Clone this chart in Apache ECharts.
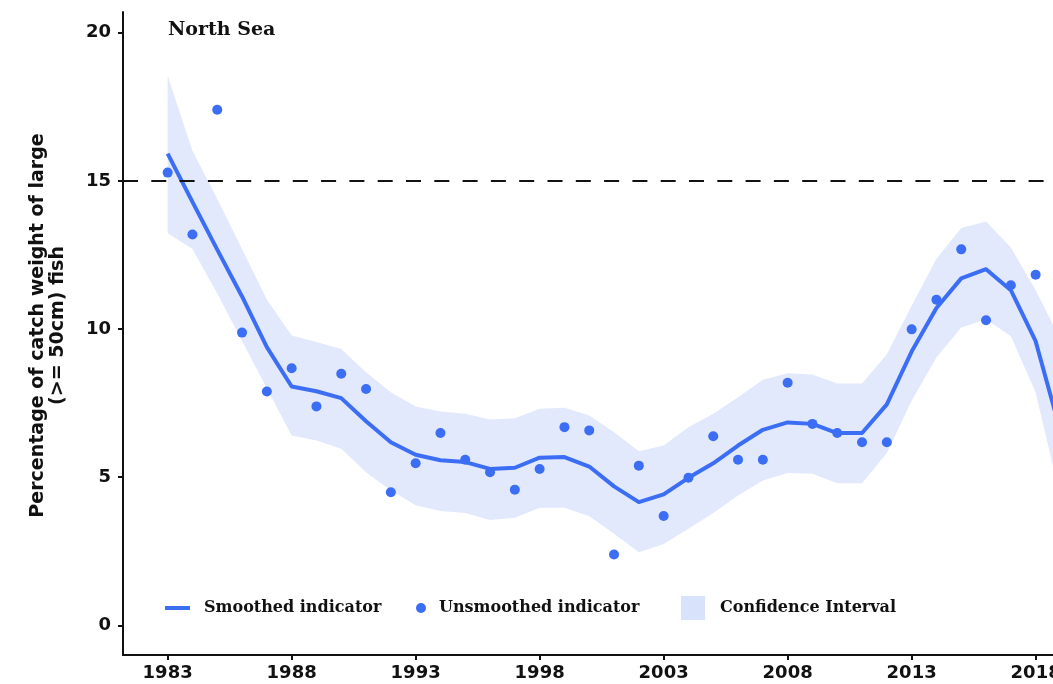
<!DOCTYPE html>
<html>
<head>
<meta charset="utf-8">
<script src="https://cdn.jsdelivr.net/npm/echarts@6/dist/echarts.min.js"></script>
<style>
html,body{margin:0;padding:0;background:#fff;}
#chart{width:1053px;height:684px;}
</style>
</head>
<body>
<div id="chart"></div>
<script>
// ---- data ----
const pointYears = [1983,1984,1985,1986,1987,1988,1989,1990,1991,1992,1993,1994,1995,1996,1997,1998,1999,2000,2001,2002,2003,2004,2005,2006,2007,2008,2009,2010,2011,2012,2013,2014,2015,2016,2017,2018];
const unsmoothed = [15.28,13.19,17.40,9.88,7.89,8.68,7.39,8.49,7.98,4.49,5.47,6.49,5.59,5.17,4.58,5.28,6.69,6.58,2.39,5.39,3.69,4.98,6.38,5.59,5.59,8.19,6.80,6.49,6.18,6.18,9.99,10.99,12.69,10.30,11.48,11.83];

const smoothYears = [1983,1984,1985,1986,1987,1988,1989,1990,1991,1992,1993,1994,1995,1996,1997,1998,1999,2000,2001,2002,2003,2004,2005,2006,2007,2008,2009,2010,2011,2012,2013,2014,2015,2016,2017,2018,2019];
const smoothed = [15.92,14.29,12.68,11.10,9.39,8.06,7.90,7.67,6.89,6.18,5.76,5.57,5.51,5.28,5.32,5.66,5.68,5.36,4.69,4.16,4.42,4.98,5.47,6.07,6.60,6.85,6.80,6.49,6.49,7.46,9.24,10.71,11.71,12.02,11.31,9.59,6.55];
const ciUpper = [18.55,16.02,14.40,12.70,11.00,9.78,9.56,9.33,8.54,7.87,7.39,7.22,7.14,6.95,6.99,7.31,7.34,7.08,6.52,5.88,6.07,6.69,7.14,7.70,8.29,8.51,8.47,8.16,8.16,9.15,10.79,12.37,13.41,13.63,12.75,11.31,9.65];
const ciLower = [13.23,12.70,11.20,9.60,8.00,6.41,6.24,5.96,5.17,4.55,4.05,3.86,3.79,3.56,3.63,3.97,3.97,3.68,3.09,2.47,2.75,3.26,3.79,4.38,4.89,5.14,5.12,4.80,4.80,5.82,7.58,9.04,10.05,10.33,9.76,7.86,4.30];

const xTicks = [1983,1988,1993,1998,2003,2008,2013,2018];
const yTicks = [0,5,10,15,20];
const referenceLevel = 15;

const titleText = 'North Sea';
const yTitle = 'Percentage of catch weight of large\n(>= 50cm) fish';

// ---- styles ----
const BLUE = '#3b6ef5';
const BAND = '#e3e9fc';
const SERIF = 'DejaVu Serif';
const SANS = 'DejaVu Sans';

const chart = echarts.init(document.getElementById('chart'), null, {renderer: 'canvas'});

const bandData = smoothYears.map((y, i) => [y, ciLower[i], ciUpper[i]]);

const legendText = {fontFamily: SERIF, fontWeight: 'bold', fontSize: 16, color: '#111'};

const option = {
  animation: false,
  backgroundColor: '#fff',
  title: {
    text: titleText,
    left: 168, top: 21, padding: 0,
    textStyle: {fontFamily: SERIF, fontWeight: 'bold', fontSize: 19, color: '#111'}
  },
  grid: {left: 123, right: 0, top: 12, bottom: 29, containLabel: false, outerBoundsMode: 'none'},
  legend: [
    {
      left: 165, top: 596, padding: 0, itemWidth: 34, itemHeight: 24, textStyle: legendText,
      data: [{name: 'Smoothed indicator', icon: 'path://M0,0 M34,24 M0,10 L25,10 L25,14 L0,14 Z'}]
    },
    {
      left: 400, top: 596, padding: 0, itemWidth: 34, itemHeight: 24, textStyle: legendText,
      data: [{name: 'Unsmoothed indicator', icon: 'path://M0,0 M34,24 M16,12 A5,5 0 1,0 26,12 A5,5 0 1,0 16,12 Z'}]
    },
    {
      left: 681, top: 596, padding: 0, itemWidth: 34, itemHeight: 24, textStyle: legendText,
      data: [{name: 'Confidence Interval', icon: 'path://M0,0 M34,24 M0,0 L24,0 L24,24 L0,24 Z', itemStyle: {color: '#d9e2fb'}}]
    }
  ],
  xAxis: {
    type: 'value', min: 1981.2, max: 2018.7,
    splitLine: {show: false},
    axisLine: {show: true, onZero: false, lineStyle: {color: '#111', width: 2}},
    axisTick: {show: true, length: 5, lineStyle: {color: '#111', width: 2}, customValues: xTicks},
    axisLabel: {customValues: xTicks, margin: 9, fontFamily: SANS, fontWeight: 'bold', fontSize: 18, color: '#111', formatter: v => String(v)}
  },
  yAxis: {
    type: 'value', min: -1, max: 20.7,
    splitLine: {show: false},
    axisLine: {show: true, onZero: false, lineStyle: {color: '#111', width: 2}},
    axisTick: {show: true, length: 5, lineStyle: {color: '#111', width: 2}, customValues: yTicks},
    axisLabel: {customValues: yTicks, margin: 12, fontFamily: SANS, fontWeight: 'bold', fontSize: 18, color: '#111'},
    name: yTitle,
    nameLocation: 'middle',
    nameRotate: 90,
    nameGap: 55,
    nameTextStyle: {fontFamily: SANS, fontWeight: 'bold', fontSize: 19, lineHeight: 20, color: '#111', align: 'center', padding: [0, 0, 0, 16]}
  },
  series: [
    {
      name: 'Confidence Interval',
      type: 'custom',
      z: 1,
      itemStyle: {color: BAND},
      encode: {x: 0, y: [1, 2]},
      data: bandData,
      renderItem: function (params, api) {
        if (params.dataIndex !== 0) return null;
        const pts = [];
        for (let i = 0; i < smoothYears.length; i++) pts.push(api.coord([smoothYears[i], ciUpper[i]]));
        for (let i = smoothYears.length - 1; i >= 0; i--) pts.push(api.coord([smoothYears[i], ciLower[i]]));
        return {type: 'polygon', shape: {points: pts}, style: {fill: BAND}};
      },
      silent: true
    },
    {
      name: 'Smoothed indicator',
      type: 'line',
      z: 3,
      data: smoothYears.map((y, i) => [y, smoothed[i]]),
      symbol: 'none',
      itemStyle: {color: BLUE},
      lineStyle: {color: BLUE, width: 4, join: 'round'},
      markLine: {
        silent: true,
        symbol: 'none',
        label: {show: false},
        lineStyle: {color: '#111', width: 2, type: [15, 13.3]},
        data: [{yAxis: referenceLevel}]
      }
    },
    {
      name: 'Unsmoothed indicator',
      type: 'scatter',
      z: 4,
      data: pointYears.map((y, i) => [y, unsmoothed[i]]),
      symbol: 'circle',
      symbolSize: 10,
      itemStyle: {color: BLUE, opacity: 1}
    }
  ]
};
chart.setOption(option);
</script>
</body>
</html>
